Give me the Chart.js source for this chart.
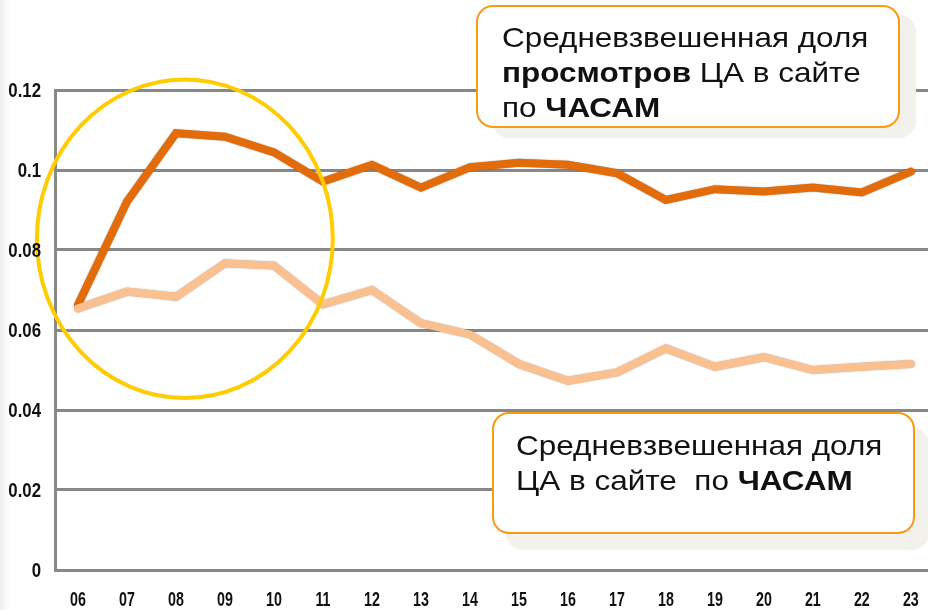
<!DOCTYPE html>
<html>
<head>
<meta charset="utf-8">
<script src="https://cdn.jsdelivr.net/npm/chart.js@4/dist/chart.umd.min.js"></script>
<style>
  html, body { margin: 0; padding: 0; background: #ffffff; }
  #wrap { position: relative; width: 928px; height: 610px; overflow: hidden; }
  #edge { position: absolute; left: 0; top: 0; width: 10px; height: 610px;
          background: linear-gradient(to right, #EEEEEE, rgba(255,255,255,0)); }
  canvas { position: absolute; left: 0; top: 0; }
  .note {
    position: absolute; box-sizing: border-box;
    background: #ffffff; border: 2px solid #F79A14; border-radius: 17px;
    font-family: "Liberation Sans", Arial, sans-serif; font-size: 28px;
    line-height: 35px; color: #111111;
  }
  .note .txt { display: inline-block; white-space: pre; transform: scaleX(1.124); transform-origin: 0 0; }
  .note b { font-weight: bold; }
</style>
</head>
<body>
<div id="wrap">
  <div id="edge"></div>
  <canvas id="c" width="928" height="610"></canvas>
  <div class="note" id="n1" style="left:476px; top:5px; width:424px; height:123px; padding:13px 0 0 24px; box-shadow: 16px 10px 0 0 #F2F1EC;"><span class="txt">Средневзвешенная доля
<b>просмотров</b> ЦА в сайте
по <b>ЧАСАМ</b></span></div>
  <div class="note" id="n2" style="left:492px; top:412px; width:423px; height:122px; padding:14px 0 0 22px; box-shadow: 14px 16px 0 0 #F2F1EC;"><span class="txt">Средневзвешенная доля
ЦА в сайте  по <b>ЧАСАМ</b></span></div>
</div>
<script>
// ---- data ----
const hours = ["06","07","08","09","10","11","12","13","14","15","16","17","18","19","20","21","22","23"];
const viewsShare = [0.0663,0.0921,0.1092,0.1083,0.1044,0.0971,0.1013,0.0956,0.1007,0.1018,0.1013,0.0992,0.0925,0.0952,0.0946,0.0956,0.0944,0.0996];
const audienceShare = [0.0654,0.0696,0.0683,0.0767,0.0761,0.0664,0.0700,0.0617,0.0589,0.0515,0.0473,0.0494,0.0554,0.0508,0.0532,0.0500,0.0508,0.0515];
const yTicks = [0,0.02,0.04,0.06,0.08,0.1,0.12];
const yTickLabels = ["0","0.02","0.04","0.06","0.08","0.1","0.12"];

const toPoints = arr => arr.map((v, i) => ({ x: parseInt(hours[i], 10), y: v }));

const labelsPlugin = {
  id: 'labels',
  afterDraw(chart) {
    const ctx = chart.ctx;
    const xs = chart.scales.x, ys = chart.scales.y;
    ctx.save();
    ctx.fillStyle = '#111111';
    ctx.font = 'bold 21px "Liberation Sans", Arial, sans-serif';
    ctx.textBaseline = 'middle';
    ctx.textAlign = 'right';
    const syY = 0.8;
    yTicks.forEach((t, i) => {
      const py = ys.getPixelForValue(t);
      ctx.save();
      ctx.scale(syY, 1);
      ctx.fillText(yTickLabels[i], 41 / syY, py + 1);
      ctx.restore();
    });
    ctx.textAlign = 'center';
    const sx = 0.68;
    hours.forEach(h => {
      const px = xs.getPixelForValue(parseInt(h, 10));
      ctx.save();
      ctx.scale(sx, 1);
      ctx.fillText(h, px / sx, 600);
      ctx.restore();
    });
    ctx.restore();
  }
};

const circlePlugin = {
  id: 'circle',
  afterDatasetsDraw(chart) {
    const ctx = chart.ctx;
    const xs = chart.scales.x, ys = chart.scales.y;
    const cx = xs.getPixelForValue(8.18), cy = ys.getPixelForValue(0.0828);
    const rx = xs.getPixelForValue(8.18 + 3.02) - cx;
    const ry = cy - ys.getPixelForValue(0.0828 + 0.0398);
    ctx.save();
    ctx.beginPath();
    ctx.ellipse(cx, cy, rx, ry, 0, 0, Math.PI * 2);
    ctx.strokeStyle = '#FFCC00';
    ctx.lineWidth = 4;
    ctx.stroke();
    ctx.restore();
  }
};

const shadowPlugin = {
  id: 'lineShadow',
  beforeDatasetDraw(chart) {
    const ctx = chart.ctx;
    ctx.save();
    ctx.shadowColor = 'rgba(0,0,0,0.35)';
    ctx.shadowBlur = 1.5;
  },
  afterDatasetDraw(chart) {
    chart.ctx.restore();
  }
};

new Chart(document.getElementById('c'), {
  type: 'line',
  data: {
    datasets: [
      {
        label: 'Средневзвешенная доля ЦА в сайте по ЧАСАМ',
        data: toPoints(audienceShare),
        borderColor: '#FAC08F',
        borderWidth: 8,
        pointRadius: 0,
        tension: 0,
        borderCapStyle: 'round'
      },
      {
        label: 'Средневзвешенная доля просмотров ЦА в сайте по ЧАСАМ',
        data: toPoints(viewsShare),
        borderColor: '#E36C0A',
        borderWidth: 8,
        pointRadius: 0,
        tension: 0,
        borderCapStyle: 'round'
      }
    ]
  },
  options: {
    responsive: false,
    animation: false,
    events: [],
    layout: { padding: { left: 55, top: 90, right: 0, bottom: 40 } },
    plugins: { legend: { display: false }, tooltip: { enabled: false } },
    scales: {
      x: {
        type: 'linear', display: false,
        min: 5.53, max: 23.35
      },
      y: {
        min: 0, max: 0.12,
        ticks: { display: false, stepSize: 0.02 },
        grid: { color: '#888888', lineWidth: 3, drawTicks: false },
        border: { display: true, color: '#888888', width: 3 }
      }
    }
  },
  plugins: [shadowPlugin, circlePlugin, labelsPlugin]
});
</script>
</body>
</html>
